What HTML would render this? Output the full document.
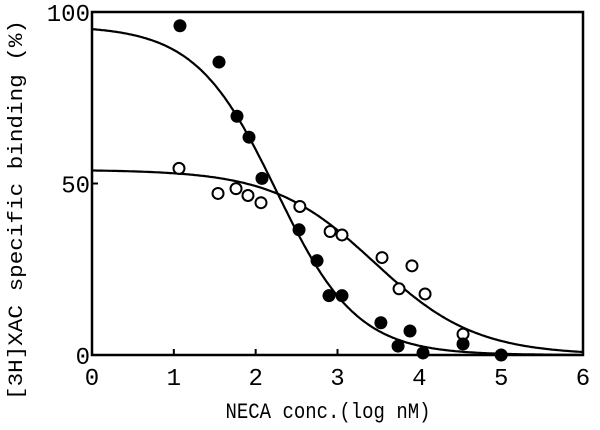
<!DOCTYPE html>
<html><head><meta charset="utf-8"><style>
html,body{margin:0;padding:0;background:#fff;}
svg{display:block;font-family:"Liberation Mono",monospace;}
</style></head><body>
<svg id="chart" width="600" height="430" viewBox="0 0 600 430">
<g id="axes"></g><g id="curves"></g><g id="points"></g>
<text x="22" y="210" transform="rotate(-90 22 210)" text-anchor="middle" font-size="20" textLength="380" lengthAdjust="spacingAndGlyphs" fill="#000">[3H]XAC specific binding (%)</text>
<text x="328" y="418" text-anchor="middle" font-size="22" textLength="205" lengthAdjust="spacingAndGlyphs" fill="#000">NECA conc.(log nM)</text>
</svg>
<script>
const xTicks=[0,1,2,3,4,5,6];
const yTicks=[0,50,100];
const filledX=[1.075,1.552,1.772,1.919,2.077,2.53,2.75,2.896,3.055,3.53,3.74,3.886,4.045,4.534,5.0];
const filledY=[96,85.4,69.6,63.5,51.5,36.5,27.5,17.3,17.3,9.4,2.6,7,0.6,3.2,0];
const openX=[1.063,1.54,1.76,1.906,2.065,2.54,2.91,3.055,3.544,3.752,3.91,4.07,4.534];
const openY=[54.4,47.1,48.5,46.5,44.4,43.3,36,35,28.4,19.3,26,17.8,6.1];
const filledFit=[96,2.25,0.88]; // top, logIC50, hill
const openFit=[54,3.45,0.7];
const X0=92,X1=583,Y0=355,Y1=12;
const xs=v=>X0+(X1-X0)*v/6, ys=v=>Y0-(Y0-Y1)*v/100;
const NS="http://www.w3.org/2000/svg";
function mk(tag,attrs,parent){const e=document.createElementNS(NS,tag);for(const k in attrs)e.setAttribute(k,attrs[k]);parent.appendChild(e);return e;}
const ax=document.getElementById('axes');
const frame=mk('rect',{x:X0,y:Y1,width:X1-X0,height:Y0-Y1,fill:'none',stroke:'#000','stroke-width':2.5},ax);


xTicks.forEach(t=>{
 const l=mk('line',{x1:xs(t),x2:xs(t),y1:Y0,y2:Y0-6,stroke:'#000','stroke-width':2},ax);
 
 
 const tx=mk('text',{x:xs(t),y:Y0+30,'text-anchor':'middle','font-size':24},ax);tx.textContent=t;
 
 
});
yTicks.forEach(t=>{
 const l=mk('line',{x1:X0,x2:X0+6,y1:ys(t),y2:ys(t),stroke:'#000','stroke-width':2},ax);
 
 
 const tx=mk('text',{x:X0-2,y:ys(t)+9,'text-anchor':'end','font-size':24},ax);tx.textContent=t;
 
 
});
const cg=document.getElementById('curves');
[[filledFit,'filled-fit-curve'],[openFit,'open-fit-curve']].forEach(([f,name])=>{
 let d='';for(let i=0;i<=300;i++){const x=6*i/300;const y=f[0]/(1+Math.pow(10,f[2]*(x-f[1])));d+=(i?'L':'M')+xs(x).toFixed(1)+','+ys(y).toFixed(1);}
 const p=mk('path',{d:d,fill:'none',stroke:'#000','stroke-width':2.2},cg);
 
 
});
const pg=document.getElementById('points');
openX.forEach((x,i)=>{
 const c=mk('circle',{cx:xs(x),cy:ys(openY[i]),r:5.5,fill:'#fff',stroke:'#000','stroke-width':2},pg);
 
 
});
filledX.forEach((x,i)=>{
 const c=mk('circle',{cx:xs(x),cy:ys(filledY[i]),r:6.5,fill:'#000'},pg);
 
 
});
</script>
</body></html>
